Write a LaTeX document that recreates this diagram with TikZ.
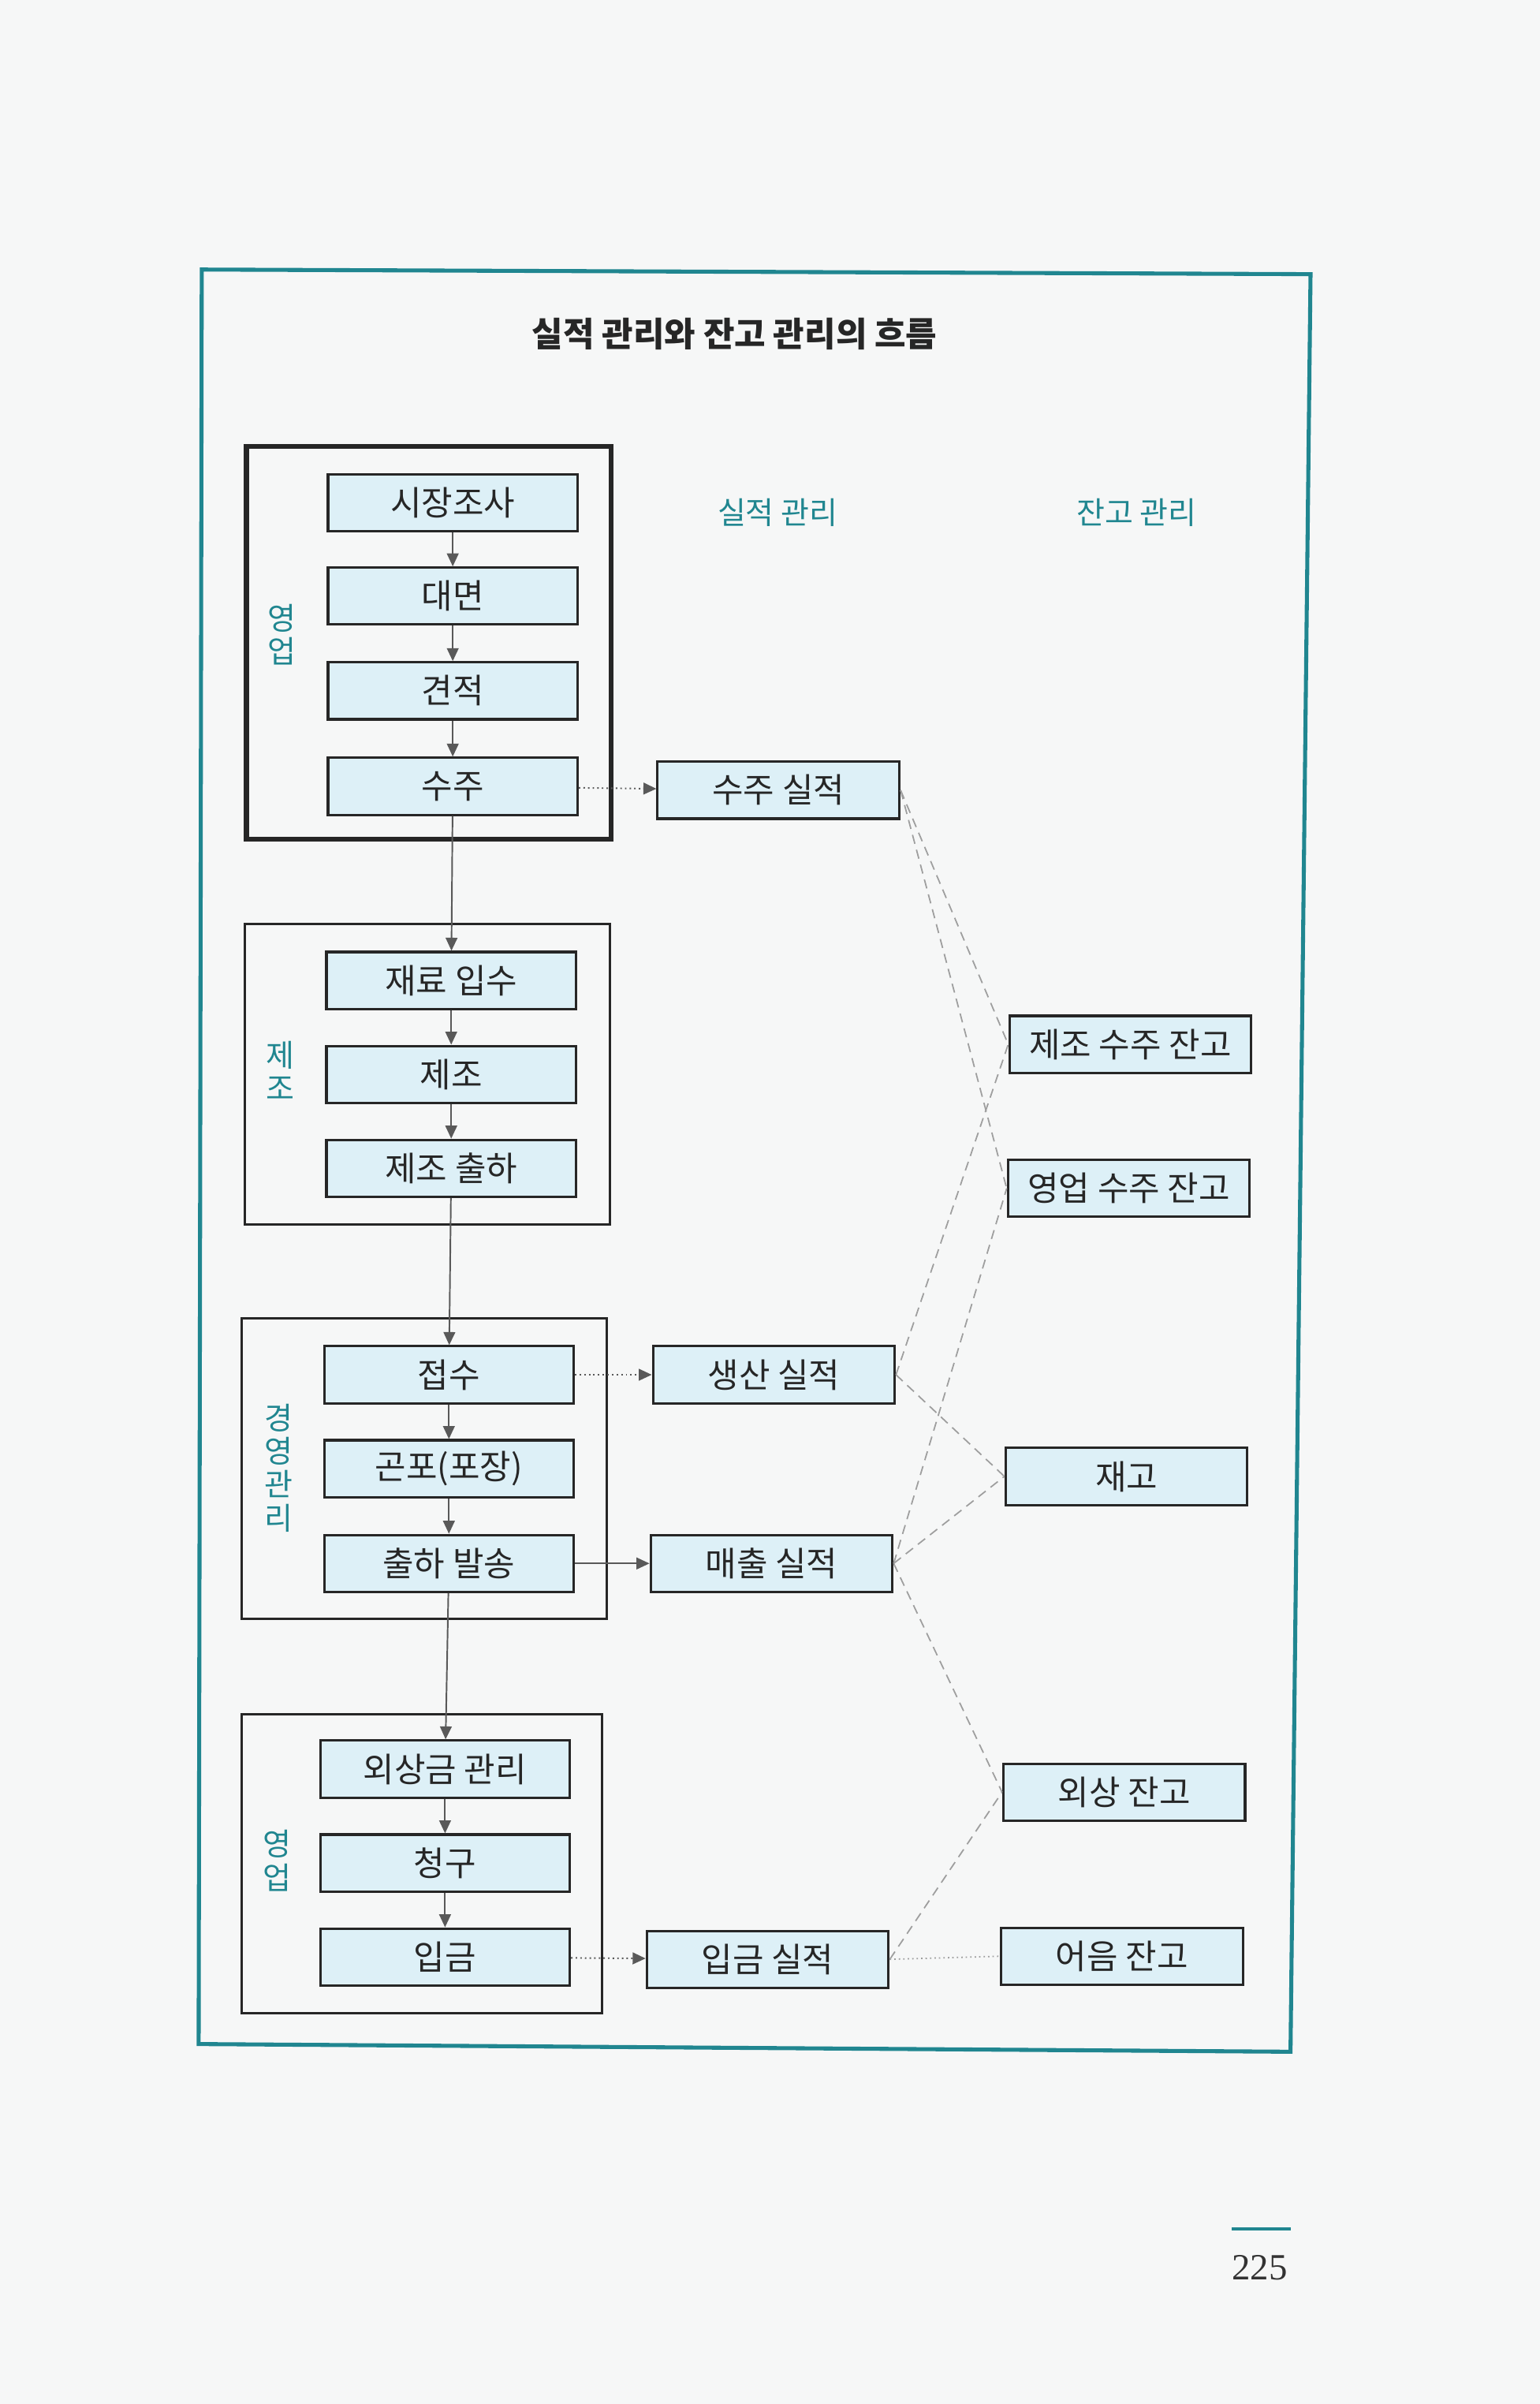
\documentclass[tikz,border=0pt]{standalone}
\usepackage{fontspec}
\setmainfont{Noto Sans CJK KR}
\newfontfamily\numfont{Liberation Serif}
\usetikzlibrary{arrows.meta}
\definecolor{frameteal}{RGB}{32,134,144}
\definecolor{boxblue}{RGB}{221,240,247}
\definecolor{pagegray}{RGB}{246,247,247}

\begin{document}
\begin{tikzpicture}[x=0.5pt,y=-0.5pt,
		proc/.style={draw=black!85,line width=0.8pt,fill=boxblue,minimum width=81pt,minimum height=18.5pt,inner sep=0pt,font=\fontsize{11}{12}\selectfont,text=black!85},
		rec/.style={proc,minimum width=78.5pt},
		flow/.style={draw=black!65,line width=0.5pt,-{Triangle[length=4.2pt,width=3.8pt]}},
		link/.style={draw=black!38,line width=0.45pt,dash pattern=on 3pt off 2pt},
		grp/.style={draw=black!85,line width=0.8pt},
		side/.style={text=frameteal,align=center,font=\fontsize{10}{10.8}\selectfont,inner sep=0pt},
		colhead/.style={text=frameteal,font=\fontsize{10}{12}\selectfont}]
		\fill[pagegray] (0,0) rectangle (1000,1560.7);
		\useasboundingbox (0,0) rectangle (1000,1560.7);
		
		\draw[frameteal,line width=1.3pt] (131,175)--(851,178)--(838,1332)--(129,1327)--cycle;
		\node (title) [font=\bfseries\fontsize{11}{13}\selectfont,text=black!85] at (477,217) {실적 관리와 잔고 관리의 흐름};
		\node (hsil) [colhead] at (505,333) {실적 관리};
		\node (hjan) [colhead] at (738,333) {잔고 관리};
		
		\draw[grp,line width=1.6pt] (160,290) rectangle (397,545);
		\draw[grp] (159,600) rectangle (396,795);
		\draw[grp] (157,856) rectangle (394,1051);
		\draw[grp] (157,1113) rectangle (391,1307);
		
		\node (lsales) [side] at (183,412) {영\\업};
		\node (lmake) [side] at (182,695) {제\\조};
		\node (lmgmt) [side] at (181,953) {경\\영\\관\\리};
		\node (lsales2) [side] at (180,1208) {영\\업};
		
		\node (sijang) [proc] at (294,326.5) {시장조사};
		\node (daemyeon) [proc] at (294,387) {대면};
		\node (gyeonjeok) [proc] at (294,448.5) {견적};
		\node (suju) [proc] at (294,510.5) {수주};
		\node (jaeryo) [proc] at (293,636.5) {재료 입수};
		\node (jejo) [proc] at (293,697.5) {제조};
		\node (jejochulha) [proc] at (293,758.5) {제조 출하};
		\node (jeopsu) [proc] at (291.5,892.5) {접수};
		\node (gonpo) [proc] at (291.5,953.5) {곤포(포장)};
		\node (chulha) [proc] at (291.5,1015) {출하 발송};
		\node (oesanggeum) [proc] at (289,1148.5) {외상금 관리};
		\node (cheonggu) [proc] at (289,1209.5) {청구};
		\node (ipgeum) [proc] at (289,1270.5) {입금};
		
		\node (sujusil) [rec] at (505.5,513) {수주 실적};
		\node (saengsan) [rec] at (502.5,892.5) {생산 실적};
		\node (maechul) [rec] at (501,1015) {매출 실적};
		\node (ipgeumsil) [rec] at (498.5,1272) {입금 실적};
		
		\node (jejojan) [rec] at (734,678) {제조 수주 잔고};
		\node (yeongjan) [rec] at (733,771.5) {영업 수주 잔고};
		\node (jaego) [rec] at (731.5,958.5) {재고};
		\node (oesangjan) [rec] at (730,1163.5) {외상 잔고};
		\node (eoeum) [rec] at (728.5,1270) {어음 잔고};
		
		\draw[flow] (sijang)--(daemyeon); \draw[flow] (daemyeon)--(gyeonjeok); \draw[flow] (gyeonjeok)--(suju);
		\draw[flow] (suju)--(jaeryo);
		\draw[flow] (jaeryo)--(jejo); \draw[flow] (jejo)--(jejochulha);
		\draw[flow] (jejochulha)--(jeopsu);
		\draw[flow] (jeopsu)--(gonpo); \draw[flow] (gonpo)--(chulha);
		\draw[flow] (chulha)--(oesanggeum);
		\draw[flow] (oesanggeum)--(cheonggu); \draw[flow] (cheonggu)--(ipgeum);
		
		\draw[flow,densely dotted] (suju)--(sujusil);
		\draw[flow,densely dotted] (jeopsu)--(saengsan);
		\draw[flow] (chulha)--(maechul);
		\draw[flow,densely dotted] (ipgeum)--(ipgeumsil);
		
		\draw[link] (sujusil.east)--(jejojan.west); \draw[link] (sujusil.east)--(yeongjan.west);
		\draw[link] (saengsan.east)--(jejojan.west); \draw[link] (saengsan.east)--(jaego.west);
		\draw[link] (maechul.east)--(yeongjan.west); \draw[link] (maechul.east)--(jaego.west); \draw[link] (maechul.east)--(oesangjan.west);
		\draw[link] (ipgeumsil.east)--(oesangjan.west);
		\draw[link,densely dotted] (ipgeumsil.east)--(eoeum.west);
		
		\draw[frameteal,line width=1pt] (800,1447)--(838,1447);
		\node (pnum) [font=\numfont\fontsize{12}{14}\selectfont,text=black!80] at (818,1472) {225};
	\end{tikzpicture}
\end{document}
